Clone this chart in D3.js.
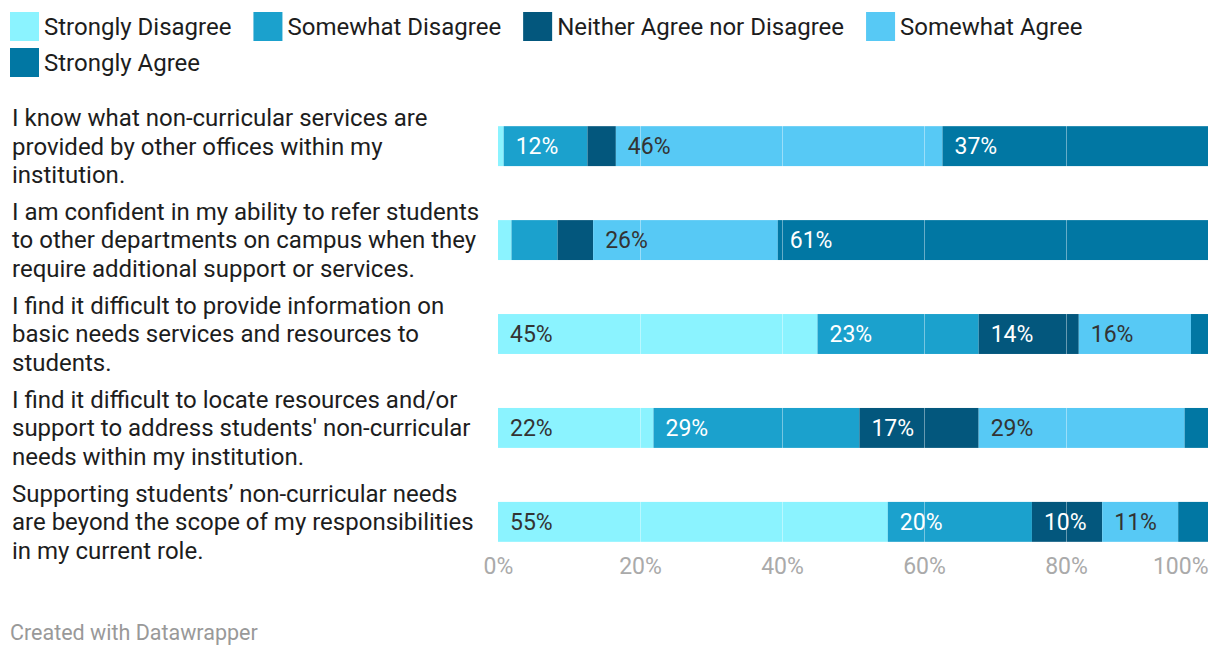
<!DOCTYPE html>
<html><head><meta charset="utf-8">
<script src="https://cdn.jsdelivr.net/npm/d3@7"></script>
<style>
body{margin:0;background:#fff;font-family:Roboto,"Noto Sans",sans-serif;}
</style></head>
<body><svg id="chart" width="1220" height="656"></svg>
<script>
const categories = [
  "I know what non-curricular services are\nprovided by other offices within my\ninstitution.",
  "I am confident in my ability to refer students\nto other departments on campus when they\nrequire additional support or services.",
  "I find it difficult to provide information on\nbasic needs services and resources to\nstudents.",
  "I find it difficult to locate resources and/or\nsupport to address students' non-curricular\nneeds within my institution.",
  "Supporting students’ non-curricular needs\nare beyond the scope of my responsibilities\nin my current role."
];
const seriesNames = ["Strongly Disagree","Somewhat Disagree","Neither Agree nor Disagree","Somewhat Agree","Strongly Agree"];
const stronglyDisagree = [0.8, 1.9, 45, 21.9, 54.9];
const somewhatDisagree = [11.8, 6.5, 22.7, 29, 20.3];
const neither = [4, 5, 14.1, 16.8, 9.9];
const somewhatAgree = [46.0, 26, 15.8, 29, 10.7];
const stronglyAgree = [37.4, 60.6, 2.4, 3.3, 4.2];
const tickValues = [0, 20, 40, 60, 80, 100];
const tickLabels = ["0%","20%","40%","60%","80%","100%"];

const colors = ["#8bf3ff","#1ba1cd","#03577d","#57c9f5","#0177a3"];
const labelColors = ["#333333","#ffffff","#ffffff","#333333","#ffffff"];

const series = [stronglyDisagree, somewhatDisagree, neither, somewhatAgree, stronglyAgree];
const rows = categories.map((c,i)=>{
  let acc=0;
  return {cat:c, segs: series.map((s,k)=>{const d={k, v:s[i], x0:acc, x1:acc+s[i]}; acc+=s[i]; return d;})};
});

const svg = d3.select("#chart");
const x = d3.scaleLinear().domain([0,100]).range([498,1208]);
const y = d3.scaleBand().domain(d3.range(categories.length)).range([98,570]).paddingInner(0.575).paddingOuter(0.3);

// legend
const legend = svg.append("g");
let lx = 10, ly = 12;
seriesNames.forEach((n,i)=>{
  const g = legend.append("g");
  const t = g.append("text").attr("font-size",24).attr("fill","#1d1d1d").text(n);
  const w = t.node().getComputedTextLength();
  if (lx + 34 + w > 1215) { lx = 10; ly += 36; }
  g.append("rect").attr("x",lx).attr("y",ly).attr("width",29).attr("height",29).attr("fill",colors[i]);
  t.attr("x",lx+34).attr("y",ly+14.5).attr("dy","0.35em");
  lx += 34 + w + 22;
});

// bars
const rowG = svg.append("g").selectAll("g").data(rows).join("g");
rowG.selectAll("rect").data(d=>d.segs).join("rect")
  .attr("x",d=>x(d.x0)).attr("width",d=>x(d.x1)-x(d.x0))
  .attr("y",function(){return y(rows.indexOf(d3.select(this.parentNode).datum()));})
  .attr("height",y.bandwidth())
  .attr("fill",d=>colors[d.k]);

// gridlines over bars
svg.append("g").selectAll("line").data(tickValues.filter(v=>v>0&&v<100)).join("line")
  .attr("x1",d=>x(d)+0.5).attr("x2",d=>x(d)+0.5).attr("y1",105).attr("y2",552)
  .attr("stroke","#fff").attr("stroke-opacity",0.4).attr("stroke-width",1);

// value labels
rows.forEach((r,i)=>{
  svg.append("g").selectAll("text").data(r.segs.filter(s=>s.v>=9.5)).join("text")
    .attr("x",d=>x(d.x0)+12).attr("y",y(i)+y.bandwidth()/2).attr("dy","0.36em")
    .attr("font-size",23).attr("fill",d=>labelColors[d.k])
    .text(d=>Math.round(d.v)+"%");
});

// category labels
rows.forEach((r,i)=>{
  const lines = r.cat.split("\n");
  const cy = y(i)+y.bandwidth()/2;
  const t = svg.append("text").attr("x",12).attr("font-size",24).attr("fill","#1d1d1d");
  lines.forEach((l,j)=>{
    t.append("tspan").attr("x",12).attr("y",cy+(j-(lines.length-1)/2)*28.5).attr("dy","0.35em").text(l);
  });
});

// axis
const axis = d3.axisBottom(x).tickValues(tickValues).tickFormat((d,i)=>tickLabels[i]).tickSize(0);
const ag = svg.append("g").attr("transform","translate(0,558)").call(axis);
ag.select(".domain").remove();
ag.selectAll("text").attr("font-size",23).attr("fill","#aaaaaa").attr("font-family","Roboto").attr("dy","0.71em").attr("y",0)
  .attr("text-anchor",(d,i)=>i===tickValues.length-1?"end":"middle");

// footer
svg.append("text").attr("x",10).attr("y",632).attr("dy","0.35em").attr("font-size",21.5).attr("fill","#999").text("Created with Datawrapper");
</script></body></html>
